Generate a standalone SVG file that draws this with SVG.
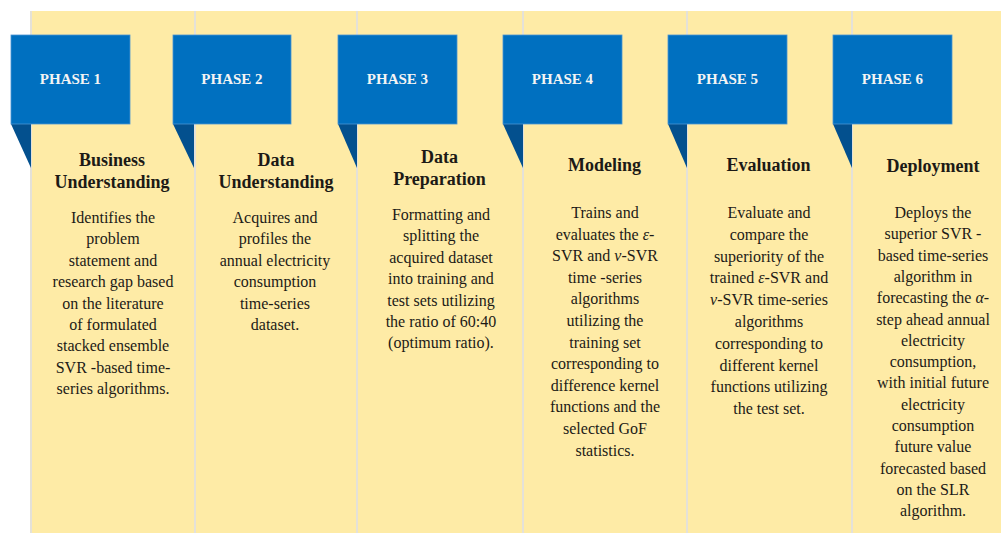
<svg xmlns="http://www.w3.org/2000/svg" width="1001" height="533" viewBox="0 0 1001 533">
<style>
.col{fill:#FEEBA6}
.div{stroke:#E4E1D8;stroke-width:2}
.tab{fill:#0070C0;stroke:#4A93D2;stroke-width:0.8}
.tail{fill:#03508E}
.ph{font-family:"Liberation Serif",serif;font-weight:bold;font-size:15px;fill:#F4F4F4;text-anchor:middle}
.ttl{font-family:"Liberation Serif",serif;font-weight:bold;font-size:18px;fill:#1C1A16;text-anchor:middle}
.bd{font-family:"Liberation Serif",serif;font-size:16px;fill:#1C1A16;text-anchor:middle}
.gk{font-style:italic}
</style>
<rect width="1001" height="533" fill="#FFFFFF"/>
<g id="columns">
<rect class="col" x="31" y="11" width="970" height="522"/>
<line class="div" x1="31" y1="11" x2="31" y2="533"/>
<line class="div" x1="195" y1="11" x2="195" y2="533"/>
<line class="div" x1="357" y1="11" x2="357" y2="533"/>
<line class="div" x1="523" y1="11" x2="523" y2="533"/>
<line class="div" x1="687" y1="11" x2="687" y2="533"/>
<line class="div" x1="852" y1="11" x2="852" y2="533"/>
</g>
<g id="connectors"></g>
<g id="phase1">
<polygon class="tail" points="11,124 31,124 31,168"/>
<rect class="tab" x="11" y="35" width="119" height="89"/>
<text class="ph" x="70.5" y="84">PHASE 1</text>
<text class="ttl" x="112" y="166">Business</text>
<text class="ttl" x="112" y="188">Understanding</text>
<text class="bd" x="113" y="223">Identifies the</text>
<text class="bd" x="113" y="244.4">problem</text>
<text class="bd" x="113" y="265.8">statement and</text>
<text class="bd" x="113" y="287.2">research gap based</text>
<text class="bd" x="113" y="308.6">on the literature</text>
<text class="bd" x="113" y="330">of formulated</text>
<text class="bd" x="113" y="351.4">stacked ensemble</text>
<text class="bd" x="113" y="372.8">SVR -based time-</text>
<text class="bd" x="113" y="394.2">series algorithms.</text>
</g>
<g id="phase2">
<polygon class="tail" points="173,124 194,124 194,168"/>
<rect class="tab" x="173" y="35" width="118" height="89"/>
<text class="ph" x="232" y="84">PHASE 2</text>
<text class="ttl" x="276" y="166">Data</text>
<text class="ttl" x="276" y="188">Understanding</text>
<text class="bd" x="275" y="223">Acquires and</text>
<text class="bd" x="275" y="244.4">profiles the</text>
<text class="bd" x="275" y="265.8">annual electricity</text>
<text class="bd" x="275" y="287.2">consumption</text>
<text class="bd" x="275" y="308.6">time-series</text>
<text class="bd" x="275" y="330">dataset.</text>
</g>
<g id="phase3">
<polygon class="tail" points="338,124 357,124 357,168"/>
<rect class="tab" x="338" y="35" width="119" height="89"/>
<text class="ph" x="397.5" y="84">PHASE 3</text>
<text class="ttl" x="439.5" y="163">Data</text>
<text class="ttl" x="439.5" y="185">Preparation</text>
<text class="bd" x="441" y="220">Formatting and</text>
<text class="bd" x="441" y="241.4">splitting the</text>
<text class="bd" x="441" y="262.8">acquired dataset</text>
<text class="bd" x="441" y="284.2">into training and</text>
<text class="bd" x="441" y="305.6">test sets utilizing</text>
<text class="bd" x="441" y="327">the ratio of 60:40</text>
<text class="bd" x="441" y="348.4">(optimum ratio).</text>
</g>
<g id="phase4">
<polygon class="tail" points="503,124 523,124 523,168"/>
<rect class="tab" x="503" y="35" width="119" height="89"/>
<text class="ph" x="562.5" y="84">PHASE 4</text>
<text class="ttl" x="604.5" y="171">Modeling</text>
<text class="bd" x="605" y="218">Trains and</text>
<text class="bd" x="605" y="239.6">evaluates the <tspan class="gk">ε</tspan>-</text>
<text class="bd" x="605" y="261.2">SVR and <tspan class="gk">ν</tspan>-SVR</text>
<text class="bd" x="605" y="282.8">time -series</text>
<text class="bd" x="605" y="304.4">algorithms</text>
<text class="bd" x="605" y="326">utilizing the</text>
<text class="bd" x="605" y="347.6">training set</text>
<text class="bd" x="605" y="369.2">corresponding to</text>
<text class="bd" x="605" y="390.8">difference kernel</text>
<text class="bd" x="605" y="412.4">functions and the</text>
<text class="bd" x="605" y="434">selected GoF</text>
<text class="bd" x="605" y="455.6">statistics.</text>
</g>
<g id="phase5">
<polygon class="tail" points="668,124 687,124 687,168"/>
<rect class="tab" x="668" y="35" width="119" height="89"/>
<text class="ph" x="727.5" y="84">PHASE 5</text>
<text class="ttl" x="768.5" y="171">Evaluation</text>
<text class="bd" x="769" y="218">Evaluate and</text>
<text class="bd" x="769" y="239.8">compare the</text>
<text class="bd" x="769" y="261.6">superiority of the</text>
<text class="bd" x="769" y="283.4">trained <tspan class="gk">ε</tspan>-SVR and</text>
<text class="bd" x="769" y="305.2"><tspan class="gk">ν</tspan>-SVR time-series</text>
<text class="bd" x="769" y="327">algorithms</text>
<text class="bd" x="769" y="348.8">corresponding to</text>
<text class="bd" x="769" y="370.6">different kernel</text>
<text class="bd" x="769" y="392.4">functions utilizing</text>
<text class="bd" x="769" y="414.2">the test set.</text>
</g>
<g id="phase6">
<polygon class="tail" points="833,124 852,124 852,168"/>
<rect class="tab" x="833" y="35" width="119" height="89"/>
<text class="ph" x="892.5" y="84">PHASE 6</text>
<text class="ttl" x="933" y="172">Deployment</text>
<text class="bd" x="933" y="218">Deploys the</text>
<text class="bd" x="933" y="239.3">superior SVR -</text>
<text class="bd" x="933" y="260.6">based time-series</text>
<text class="bd" x="933" y="281.9">algorithm in</text>
<text class="bd" x="933" y="303.2">forecasting the <tspan class="gk">α</tspan>-</text>
<text class="bd" x="933" y="324.5">step ahead annual</text>
<text class="bd" x="933" y="345.8">electricity</text>
<text class="bd" x="933" y="367.1">consumption,</text>
<text class="bd" x="933" y="388.4">with initial future</text>
<text class="bd" x="933" y="409.7">electricity</text>
<text class="bd" x="933" y="431">consumption</text>
<text class="bd" x="933" y="452.3">future value</text>
<text class="bd" x="933" y="473.6">forecasted based</text>
<text class="bd" x="933" y="494.9">on the SLR</text>
<text class="bd" x="933" y="516.2">algorithm.</text>
</g>
</svg>
